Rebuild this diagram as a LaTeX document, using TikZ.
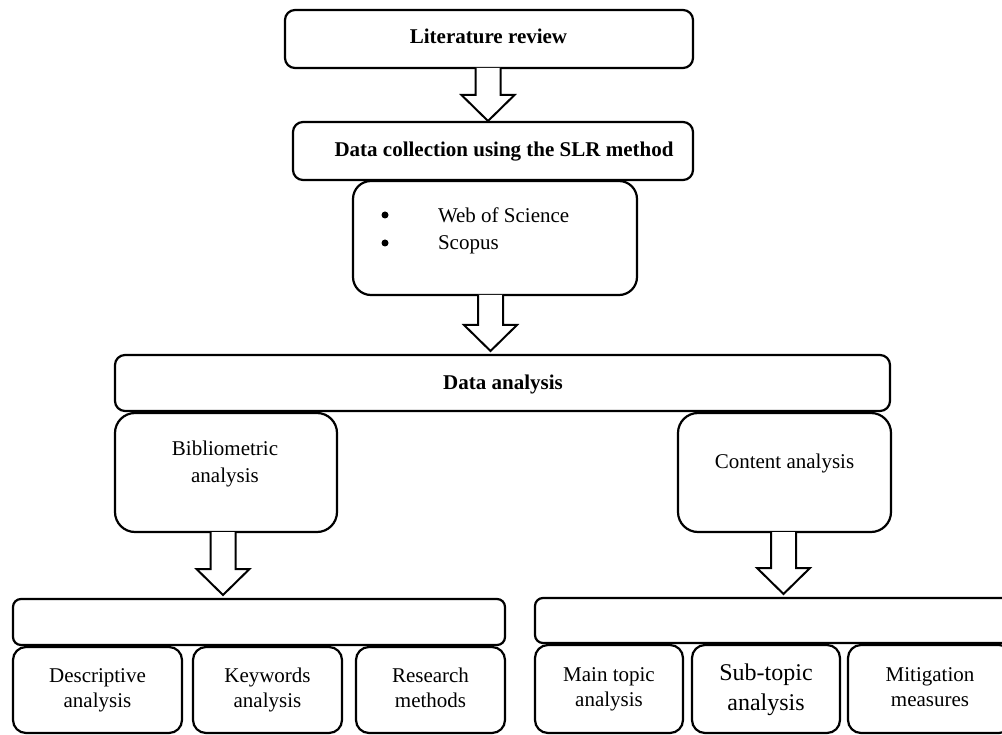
\documentclass[tikz,border=0pt]{standalone}
\usepackage{fontspec}
\setmainfont{Liberation Serif}
\usetikzlibrary{calc}
\newcommand{\boxat}[8][]{%
  \node[box=#7, minimum width={#5-#3}, minimum height={#6-#4}, #1] (#2) at (#3,#4) {#8};}
\newcommand{\blockarr}[2]{%
  \draw[arrstyle] ($(#1)+(-12.5,0)$) -- ($(#2)+(-12.5,-26)$) -- ($(#2)+(-26.5,-26)$)
    -- (#2) -- ($(#2)+(26.5,-26)$) -- ($(#2)+(12.5,-26)$) -- ($(#1)+(12.5,0)$);}
\begin{document}
\begin{tikzpicture}[x=1pt,y=-1pt,
  box/.style={draw, line width=2.2pt, inner sep=0pt, outer sep=0pt, anchor=north west,
    rounded corners=#1, align=center, font=\fontsize{21}{25}\selectfont},
  box/.default=10pt,
  big/.style={font=\fontsize{24}{30}\selectfont},
  txt/.style={inner sep=0pt, outer sep=0pt, align=center, font=\fontsize{21}{27}\selectfont},
  btxt/.style={txt, font=\fontsize{21}{27}\selectfont\bfseries},
  dot/.style={circle, fill, inner sep=0pt, minimum size=7pt},
  arrstyle/.style={draw, line width=2pt, fill=white, line join=miter}]
\useasboundingbox (0,0) rectangle (1002,735);
\clip (0,0) rectangle (1002,735);

% boxes
\boxat{lit}{285}{10}{693}{68}{10pt}{}
\boxat{dc}{293}{122}{693}{180}{10pt}{}
\boxat{web}{353}{181}{637}{295}{18pt}{}
\boxat{da}{115}{355}{890}{411}{10pt}{}
\boxat{bib}{115}{413}{337}{532}{20pt}{}
\boxat{con}{678}{413}{891}{532}{20pt}{}
\boxat{lh}{13}{599}{505}{645}{8pt}{}
\boxat{rh}{535}{598}{1012}{643}{8pt}{}
\boxat{desc}{13}{647}{182}{733}{13pt}{Descriptive\strut\\analysis\strut}
\boxat{kw}{193}{647}{342}{733}{13pt}{Keywords\strut\\analysis\strut}
\boxat{rm}{356}{647}{505}{733}{13pt}{Research\strut\\methods\strut}
\boxat{mt}{535}{645}{683}{733}{13pt}{Main topic\strut\\analysis\strut}
\boxat[big]{st}{692}{645}{840}{733}{13pt}{Sub-topic\strut\\analysis\strut}
\boxat{mm}{848}{645}{1012}{733}{13pt}{Mitigation\strut\\measures\strut}

% texts
\node[btxt, anchor=base] (littxt) at (488.5,44) {Literature review};
\node[btxt, anchor=base] (dctxt) at (504,157) {Data collection using the SLR method};
\node[dot] (b1) at (385,215) {};
\node[dot] (b2) at (385,243) {};
\node[txt, anchor=base west] (wos) at (438,223) {Web of Science};
\node[txt, anchor=base west] (sco) at (438,250) {Scopus};
\node[btxt, anchor=base] (datxt) at (503,390) {Data analysis};
\node[txt] (bibtxt) at (225,464) {Bibliometric\\analysis};
\node[txt, anchor=base] (contxt) at (784.5,468) {Content analysis};

% arrows
\coordinate (x1) at (488,0);
\coordinate (x2) at (490.5,0);
\coordinate (x3) at (223,0);
\coordinate (x4) at (783.5,0);
\coordinate (s1) at (lit.south -| x1);
\coordinate (e1) at ($(dc.north -| x1)+(0,-1)$);
\coordinate (s2) at (web.south -| x2);
\coordinate (e2) at ($(da.north -| x2)+(0,-4)$);
\coordinate (s3) at (bib.south -| x3);
\coordinate (e3) at ($(lh.north -| x3)+(0,-4)$);
\coordinate (s4) at (con.south -| x4);
\coordinate (e4) at ($(rh.north -| x4)+(0,-4)$);
\blockarr{s1}{e1}
\blockarr{s2}{e2}
\blockarr{s3}{e3}
\blockarr{s4}{e4}
\end{tikzpicture}
\end{document}
